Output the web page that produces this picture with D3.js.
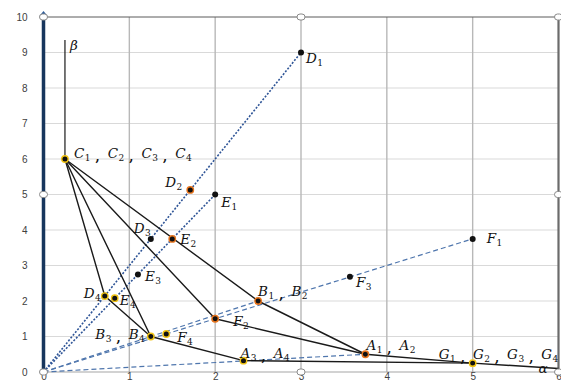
<!DOCTYPE html>
<html>
<head>
<meta charset="utf-8">
<script src="https://cdn.jsdelivr.net/npm/d3@7/dist/d3.min.js"></script>
<style>
  html, body { margin: 0; padding: 0; background: #fff; }
  svg { display: block; }
  .tick-label { font-family: "Liberation Sans", Arial, sans-serif; font-size: 10px; fill: #404040; }
  .math { font-family: "DejaVu Serif", "Liberation Serif", serif; font-style: italic; font-size: 13.5px; fill: #111; }
</style>
</head>
<body>
<svg id="chart" width="561" height="383"></svg>
<script>
// Axis ticks
const xTicks = [0, 1, 2, 3, 4, 5, 6];
const yTicks = [0, 1, 2, 3, 4, 5, 6, 7, 8, 9, 10];

// Named points of the construction (α, β coordinates)
const pointIds = ["C", "D1", "D2", "D3", "D4", "E1", "E2", "E3", "E4", "F1", "F2", "F3", "F4", "B1", "B3", "A1", "A3", "G", "ALPHA", "BETA"];
const pointX   = [0.25, 3, 1.71, 1.25, 0.714, 2, 1.5, 1.1, 0.83, 5, 2, 3.57, 1.43, 2.5, 1.25, 3.75, 2.33, 5, 6, 0.25];
const pointY   = [6, 9, 5.13, 3.75, 2.14, 5, 3.75, 2.75, 2.08, 3.75, 1.5, 2.68, 1.07, 2, 1, 0.5, 0.32, 0.25, 0.1, 9.35];

// Marker halo for each drawn point ("none" = plain dot)
const markerIds  = ["C", "D1", "D2", "D3", "D4", "E1", "E2", "E3", "E4", "F1", "F2", "F3", "F4", "B1", "B3", "A1", "A3", "G"];
const markerRing = ["yellow", "none", "orange", "none", "yellow", "none", "orange", "none", "yellow", "none", "orange", "none", "yellow", "orange", "yellow", "orange", "yellow", "yellow"];

// Rays from the origin
const rayTargets = ["D1", "E1", "F1", "B1", "A1"];
const rayStyles  = ["dotted", "dotted", "dashed", "dashed", "dashed"];

// Solid broken lines
const solidPaths = [
  ["C", "BETA"],
  ["C", "B1", "A1", "G", "ALPHA"],
  ["C", "F2", "A1"],
  ["C", "B3", "A3", "G"],
  ["C", "D4", "B3"]
];

// Point labels: letter, subscripts
const labelAt     = ["C", "D1", "D2", "D3", "D4", "E1", "E2", "E3", "E4", "F1", "F2", "F3", "F4", "B1", "B3", "A1", "A3", "G", "ALPHA", "BETA"];
const labelLetter = ["C", "D", "D", "D", "D", "E", "E", "E", "E", "F", "F", "F", "F", "B", "B", "A", "A", "G", "α", "β"];
const labelSubs   = [["1","2","3","4"], ["1"], ["2"], ["3"], ["4"], ["1"], ["2"], ["3"], ["4"], ["1"], ["2"], ["3"], ["4"], ["1","2"], ["3","4"], ["1","2"], ["3","4"], ["1","2","3","4"], [], []];

// Label placement relative to its point (pixels) and anchor
const labelDx     = [9, 5, -8, 0, -4, 6, 8, 7, 5, 14, 18, 6, 11, 0, -6, 1, -3, -34, -20, 5];
const labelDy     = [-1, 10, -3, -6, 2, 12, 5, 7, 7, 4, 7, 10, 8, -5, 2, -4, -3, -4, 5, 10];
const labelAnchor = ["start", "start", "end", "end", "end", "start", "start", "start", "start", "start", "start", "start", "start", "start", "end", "start", "start", "start", "start", "start"];

const svg = d3.select("#chart");
const x = d3.scaleLinear().domain([0, 6]).range([43.5, 558.5]);
const y = d3.scaleLinear().domain([0, 10]).range([372, 17]);

const P = id => { const i = pointIds.indexOf(id); return [pointX[i], pointY[i]]; };

// Grid
const grid = svg.append("g");
grid.selectAll("line.h").data(yTicks.filter(v => v > 0 && v < 10)).join("line")
  .attr("x1", x(0)).attr("x2", x(6)).attr("y1", d => y(d)).attr("y2", d => y(d))
  .attr("stroke", "#d9d9d9").attr("stroke-width", 1.2);
grid.selectAll("line.v").data(xTicks.filter(v => v > 0 && v < 6)).join("line")
  .attr("x1", d => x(d)).attr("x2", d => x(d)).attr("y1", y(0)).attr("y2", y(10))
  .attr("stroke", "#b8b8b8").attr("stroke-width", 1.4);

// Frame: top, bottom, right border
svg.append("line").attr("x1", x(0)).attr("x2", x(6)).attr("y1", y(10)).attr("y2", y(10))
  .attr("stroke", "#5a5a5a").attr("stroke-width", 1);
svg.append("line").attr("x1", x(0)).attr("x2", x(6)).attr("y1", y(0)).attr("y2", y(0))
  .attr("stroke", "#a6a6a6").attr("stroke-width", 1.2);
svg.append("line").attr("x1", x(6)).attr("x2", x(6)).attr("y1", y(10)).attr("y2", y(0))
  .attr("stroke", "#6b6b6b").attr("stroke-width", 2.2);

// Tick labels via axes
const xAxis = d3.axisBottom(x).tickValues(xTicks).tickSize(0).tickPadding(1).tickFormat(d3.format("d"));
const gx = svg.append("g").attr("transform", `translate(0,${y(0)})`).call(xAxis);
gx.select(".domain").remove();
gx.selectAll("text").attr("class", "tick-label").attr("font-family", null).attr("font-size", null).attr("fill", null);

const yAxis = d3.axisLeft(y).tickValues(yTicks).tickSize(0).tickPadding(16).tickFormat(d3.format("d"));
const gy = svg.append("g").attr("transform", `translate(${x(0)},0)`).call(yAxis);
gy.select(".domain").remove();
gy.selectAll("text").attr("class", "tick-label").attr("font-family", null).attr("font-size", null).attr("fill", null);

// Rays from origin
const rays = svg.append("g");
rayTargets.forEach((id, i) => {
  const [px, py] = P(id);
  rays.append("line")
    .attr("x1", x(0)).attr("y1", y(0)).attr("x2", x(px)).attr("y2", y(py))
    .attr("stroke", rayStyles[i] === "dotted" ? "#2f5597" : "#4f76ad")
    .attr("stroke-width", rayStyles[i] === "dotted" ? 1.6 : 1.2)
    .attr("stroke-dasharray", rayStyles[i] === "dotted" ? "2,1.6" : "5,3");
});

// Solid broken lines
const line = d3.line().x(d => x(d[0])).y(d => y(d[1]));
svg.append("g").selectAll("path").data(solidPaths).join("path")
  .attr("d", p => line(p.map(P)))
  .attr("fill", "none").attr("stroke", "#1a1a1a")
  .attr("stroke-width", (p, i) => i === 0 ? 1.2 : 1.4)
  .attr("stroke-linejoin", "round");

// Left axis line with arrow
svg.append("line").attr("x1", x(0)).attr("x2", x(0)).attr("y1", y(0)).attr("y2", y(10))
  .attr("stroke", "#17365d").attr("stroke-width", 3.5);
svg.append("path")
  .attr("d", `M${x(0) - 4},${y(10) - 1} L${x(0)},${y(10) - 6} L${x(0) + 4},${y(10) - 1} Z`)
  .attr("fill", "#2e5d9a");

// Selection handles on the frame
const handles = [[0, 10], [3, 10], [6, 10], [0, 5], [6, 5], [0, 0], [3, 0], [6, 0]];
svg.append("g").selectAll("rect").data(handles).join("rect")
  .attr("x", d => x(d[0]) - 4).attr("y", d => y(d[1]) - 3)
  .attr("width", 8).attr("height", 6).attr("rx", 3)
  .attr("fill", "#fff").attr("stroke", "#8a8a8a").attr("stroke-width", 1);

// Markers
const ringColor = { yellow: "#f2c413", orange: "#e8741c", none: "none" };
svg.append("g").selectAll("circle").data(markerIds).join("circle")
  .attr("cx", id => x(P(id)[0])).attr("cy", id => y(P(id)[1]))
  .attr("r", (id, i) => markerRing[i] === "none" ? 3 : 3.2)
  .attr("fill", "#111")
  .attr("stroke", (id, i) => ringColor[markerRing[i]])
  .attr("stroke-width", 1.4);

// Labels with subscripts, groups separated by a lowered comma
const labels = svg.append("g");
labelAt.forEach((id, i) => {
  const [px, py] = P(id);
  const t = labels.append("text").attr("class", "math")
    .attr("x", x(px) + labelDx[i]).attr("y", y(py) + labelDy[i])
    .attr("text-anchor", labelAnchor[i]);
  labelSubs[i].forEach((s, k) => {
    if (k > 0) {
      t.append("tspan").attr("dx", 5).attr("font-style", "normal").attr("font-size", "12px").attr("font-weight", "bold").text(",");
      t.append("tspan").attr("dx", 8).attr("dy", -3).text(labelLetter[i]);
    } else {
      t.append("tspan").text(labelLetter[i]);
    }
    t.append("tspan").attr("font-size", "9px").attr("font-style", "normal").attr("dy", 3).attr("dx", 0.5).text(s);
  });
  if (labelSubs[i].length === 0) t.text(labelLetter[i]);
});
</script>
</body>
</html>
